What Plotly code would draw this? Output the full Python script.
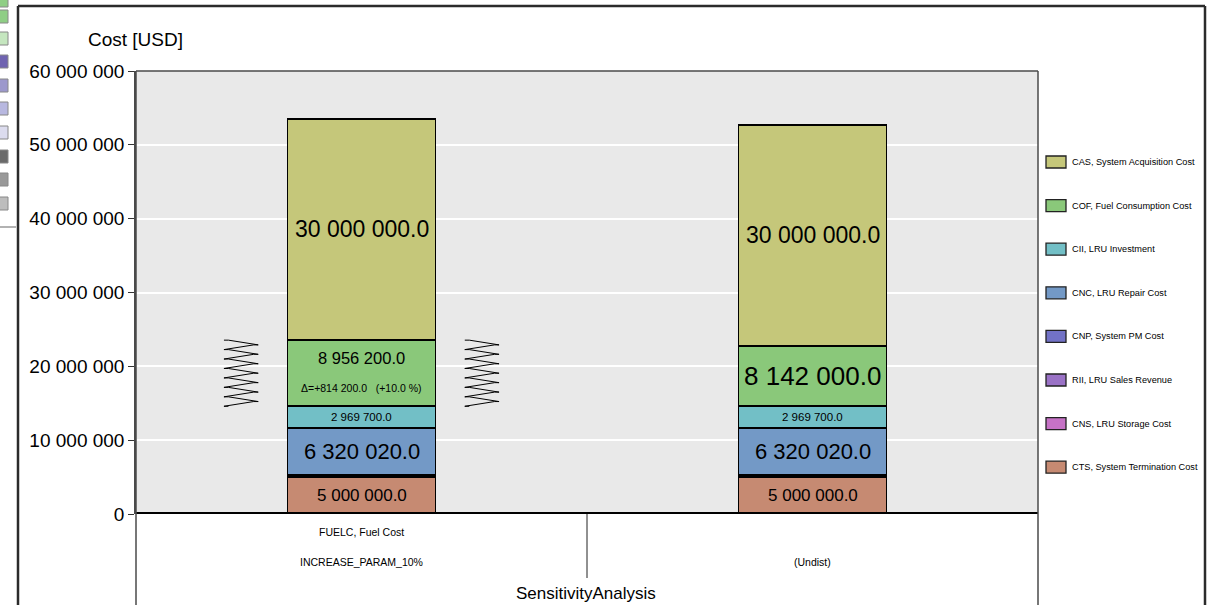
import plotly.graph_objects as go

# ---- data -------------------------------------------------------------
param_labels = ["FUELC, Fuel Cost", ""]
case_labels = ["INCREASE_PARAM_10%", "(Undist)"]
x_pos = [0, 1]

# cost elements, bottom of the stack first
cts = [5000000.0, 5000000.0]
cns = [100000.0, 100000.0]
rii = [50000.0, 50000.0]
cnp = [150000.0, 150000.0]
cnc = [6320020.0, 6320020.0]
cii = [2969700.0, 2969700.0]
cof = [8956200.0, 8142000.0]
cas = [30000000.0, 30000000.0]

series_names = [
    "CTS, System Termination Cost",
    "CNS, LRU Storage Cost",
    "RII, LRU Sales Revenue",
    "CNP, System PM Cost",
    "CNC, LRU Repair Cost",
    "CII, LRU Investment",
    "COF, Fuel Consumption Cost",
    "CAS, System Acquisition Cost",
]
series_values = [cts, cns, rii, cnp, cnc, cii, cof, cas]
series_colors = ["#c68a72", "#c672c6", "#9a72c6", "#7272c6",
                 "#7399c6", "#72bfc6", "#8ac87a", "#c5c77a"]

# label font size per labelled element (index into series) and bar
label_sizes = {
    0: [17, 17],
    4: [22, 22],
    5: [11.5, 11.5],
    6: [16.5, 26],
    7: [23, 23],
}

FONT = "Liberation Sans, Arial, sans-serif"

# plot-area pixel box, used to place decorations outside the axes
L, R, T, B = 136, 1038, 71, 514
W, H = R - L, B - T


def px(x):
    return (x - L) / W


def py(y):
    return (B - y) / H


def fmt(v):
    return f"{v:,.1f}".replace(",", " ")


def note(x, y, text, size, xref="paper", yref="paper", xanchor="center", **kw):
    return dict(x=x, y=y, xref=xref, yref=yref, text=text, showarrow=False,
                xanchor=xanchor, yanchor="middle",
                font=dict(family=FONT, size=size, color="black"), **kw)


fig = go.Figure()

for name, vals, col in zip(series_names, series_values, series_colors):
    fig.add_trace(go.Bar(
        x=x_pos, y=vals, name=name, width=0.328,
        marker=dict(color=col, line=dict(color="black", width=1.8)),
        hoverinfo="name+y",
    ))

# value labels centred on each segment
annotations = []
for b in range(len(x_pos)):
    base = 0.0
    for i, vals in enumerate(series_values):
        v = vals[b]
        mid = base + v / 2
        if i in label_sizes:
            size = label_sizes[i][b]
            if i == 6 and b == 0:
                ref = cof[1]
                d = v - ref
                annotations.append(note(x_pos[b], mid, fmt(v), size,
                                        xref="x", yref="y", yshift=15))
                annotations.append(note(
                    x_pos[b], mid,
                    f"Δ=+{fmt(d)}   (+{d / ref * 100:.1f} %)", 10.5,
                    xref="x", yref="y", yshift=-15))
            else:
                annotations.append(note(x_pos[b], mid, fmt(v), size,
                                        xref="x", yref="y"))
        base += v

# spring markers either side of the changed element
cof_lo = sum(s[0] for s in series_values[:6])
cof_hi = cof_lo + cof[0]
n_zig = 14
half_w, stub = 0.028, 0.01
for side in (-1, 1):
    cx = x_pos[0] + side * 0.267
    xs, ys = [], []
    for k in range(n_zig + 1):
        y = cof_hi - (cof_hi - cof_lo) * k / n_zig
        if k % 2 == 0:
            xs += [cx - half_w - stub, cx - half_w, cx - half_w - stub, cx - half_w]
        else:
            xs += [cx + half_w + stub, cx + half_w, cx + half_w + stub, cx + half_w]
        ys += [y] * 4
    fig.add_trace(go.Scatter(x=xs, y=ys, mode="lines", showlegend=False,
                             hoverinfo="skip",
                             line=dict(color="black", width=1)))

# category labels under the axis
for b in range(len(x_pos)):
    if param_labels[b]:
        annotations.append(note(x_pos[b], py(532), param_labels[b], 10.5, xref="x"))
    annotations.append(note(x_pos[b], py(562), case_labels[b], 10.5, xref="x"))

annotations.append(note(px(586), py(593), "SensitivityAnalysis", 17))
annotations.append(note(px(135), py(40), "Cost [USD]", 19))

shapes = []

# legend, top entry first
legend_order = list(range(len(series_names)))[::-1]
for row, i in enumerate(legend_order):
    yc = 162 + row * 43.6
    shapes.append(dict(type="rect", xref="paper", yref="paper",
                       x0=px(1046), x1=px(1066), y0=py(yc - 6), y1=py(yc + 6),
                       fillcolor=series_colors[i],
                       line=dict(color="#222", width=1.3)))
    annotations.append(note(px(1070), py(yc), series_names[i], 9.2,
                            xanchor="left"))

# thick base line at zero
shapes.append(dict(type="line", xref="paper", yref="y", x0=0, x1=1, y0=0, y1=0,
                   line=dict(color="black", width=4)))
# plot frame and its extensions below the axis
frame = dict(color="#4a4a4a", width=1.5)
shapes.append(dict(type="line", xref="paper", yref="paper",
                   x0=0, x1=1, y0=1, y1=1, line=frame))
shapes.append(dict(type="line", xref="paper", yref="paper",
                   x0=0, x1=0, y0=1, y1=py(605), line=frame))
shapes.append(dict(type="line", xref="paper", yref="paper",
                   x0=1, x1=1, y0=1, y1=py(605), line=frame))
shapes.append(dict(type="line", xref="paper", yref="paper",
                   x0=0.5, x1=0.5, y0=0, y1=py(578),
                   line=dict(color="#222", width=1)))
# outer window border
win = dict(color="#2b2b2b", width=2.5)
shapes.append(dict(type="line", xref="paper", yref="paper",
                   x0=px(18), x1=px(1205), y0=py(6), y1=py(6), line=win))
shapes.append(dict(type="line", xref="paper", yref="paper",
                   x0=px(18), x1=px(18), y0=py(6), y1=py(606), line=win))
shapes.append(dict(type="line", xref="paper", yref="paper",
                   x0=px(1205), x1=px(1205), y0=py(6), y1=py(606), line=win))
# neighbouring palette strip at the far left
strip_colors = ["#8fce85", "#8fce85", "#c5e6bf", "#6f63b0", "#9c98cc",
                "#b8b8e0", "#dcdcee", "#6a6a6a", "#999999", "#bdbdbd"]
strip_tops = [-6, 10, 32, 55, 79, 102, 126, 150, 173, 197]
for c, t in zip(strip_colors, strip_tops):
    shapes.append(dict(type="rect", xref="paper", yref="paper",
                       x0=px(-3), x1=px(8), y0=py(t), y1=py(t + 13),
                       fillcolor=c, line=dict(color="#888", width=1)))
shapes.append(dict(type="line", xref="paper", yref="paper",
                   x0=px(0), x1=px(16), y0=py(227), y1=py(227),
                   line=dict(color="#999", width=1.5)))

fig.update_layout(
    width=1210, height=605, autosize=False,
    margin=dict(l=L, r=1210 - R, t=T, b=605 - B, pad=0),
    paper_bgcolor="white", plot_bgcolor="#e9e9e9",
    barmode="stack", separators=". ",
    showlegend=False,
    xaxis=dict(range=[-0.5, 1.5], showticklabels=False, showgrid=False,
               zeroline=False, ticks="", fixedrange=True),
    yaxis=dict(range=[0, 60000000], dtick=10000000, tickformat=",.0f",
               showgrid=True, gridcolor="white", gridwidth=1.5,
               zeroline=False, ticks="outside", ticklen=6, tickcolor="#333",
               showline=True, linecolor="#4a4a4a", linewidth=1.5,
               tickfont=dict(family=FONT, size=19, color="black")),
    annotations=annotations, shapes=shapes,
)

fig.write_html("out.html")
